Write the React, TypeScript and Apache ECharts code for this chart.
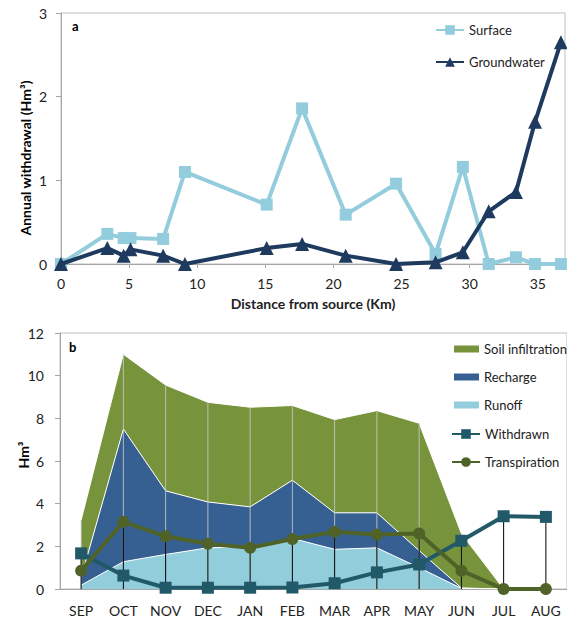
import React, { useEffect, useRef } from 'react';
import * as echarts from 'echarts';

// ---- Panel a data ----
const distanceKm = [0, 3.4, 4.6, 5.1, 7.5, 9.1, 15.1, 17.7, 20.9, 24.6, 27.5, 29.5, 31.4, 33.4, 34.8, 36.7];
const surface = [0, 0.36, 0.31, 0.31, 0.3, 1.1, 0.71, 1.86, 0.59, 0.96, 0.12, 1.16, 0, 0.08, 0, 0];
const groundwater = [0, 0.19, 0.1, 0.175, 0.1, 0, 0.19, 0.24, 0.1, 0, 0.02, 0.14, 0.63, 0.86, 1.7, 2.65];

// ---- Panel b data ----
const months = ['SEP', 'OCT', 'NOV', 'DEC', 'JAN', 'FEB', 'MAR', 'APR', 'MAY', 'JUN', 'JUL', 'AUG'];
const runoff = [0.18, 1.28, 1.62, 1.93, 1.98, 2.37, 1.86, 1.93, 1.0, 0.03, 0, 0];
const recharge = [0.35, 6.22, 2.98, 2.15, 1.87, 2.73, 1.71, 1.64, 0.8, 0.02, 0, 0];
const soilInfiltration = [2.7, 3.5, 4.96, 4.67, 4.67, 3.5, 4.37, 4.79, 5.97, 2.55, 0, 0];
const withdrawn = [1.67, 0.63, 0.06, 0.06, 0.06, 0.07, 0.27, 0.78, 1.15, 2.26, 3.41, 3.38];
const transpiration = [0.86, 3.15, 2.47, 2.12, 1.93, 2.34, 2.68, 2.55, 2.6, 0.86, 0, 0];

const FONT = 'Lato, "Liberation Sans", sans-serif';
const TXT = '#222222';
const AXIS = '#A6A6A6';

const dropLine = (color: string) => (params: any, api: any) => {
  const x = api.value(0);
  const y = api.value(1);
  const p1 = api.coord([x, y]);
  const p0 = api.coord([x, 0]);
  return {
    type: 'line',
    shape: { x1: p1[0], y1: p1[1], x2: p0[0], y2: p0[1] },
    style: { stroke: color, lineWidth: 1 },
  };
};

export default function App() {
  const ref = useRef<HTMLDivElement>(null);
  useEffect(() => {
    document.body.style.margin = '0';
    const chart = echarts.init(ref.current!, null, { renderer: 'svg' });
    const totals = months.map((_, i) => [i, runoff[i] + recharge[i] + soilInfiltration[i]]);
    const lineMax = months.map((_, i) => [i, Math.max(withdrawn[i], transpiration[i])]);
    const areaSeries = (name: string, data: number[], color: string) => ({
      name,
      type: 'line',
      xAxisIndex: 1,
      yAxisIndex: 1,
      stack: 'water',
      data,
      symbol: 'none',
      lineStyle: { color: '#ffffff', width: 1 },
      areaStyle: { color, opacity: 1 },
      itemStyle: { color },
      z: 2,
    });
    const legendText = { fontSize: 13, color: TXT, lineHeight: 16, fontFamily: FONT };
    chart.setOption({
      animation: false,
      textStyle: { fontFamily: FONT },
      grid: [
        { left: 61, top: 13, width: 504, height: 251, show: true, borderColor: '#BFBFBF', borderWidth: 1 },
        { left: 60, top: 333, width: 512, height: 256, show: true, borderColor: '#BFBFBF', borderWidth: 1 },
      ],
      xAxis: [
        {
          gridIndex: 0,
          type: 'value',
          min: 0,
          max: 37,
          interval: 5,
          axisLine: { show: true, onZero: false, lineStyle: { color: AXIS } },
          axisTick: { show: true, length: 4, lineStyle: { color: AXIS } },
          splitLine: { show: false },
          axisLabel: { fontSize: 14, color: TXT, margin: 12, showMaxLabel: false, fontFamily: FONT },
          name: 'Distance from source (Km)',
          nameLocation: 'middle',
          nameGap: 32,
          nameTextStyle: { fontSize: 14, fontWeight: 'bold', color: TXT, fontFamily: FONT },
        },
        {
          gridIndex: 1,
          type: 'category',
          data: months,
          boundaryGap: true,
          axisLine: { show: true, lineStyle: { color: AXIS } },
          axisTick: { show: false },
          axisLabel: { fontSize: 14, color: TXT, margin: 14, fontFamily: FONT },
        },
      ],
      yAxis: [
        {
          gridIndex: 0,
          type: 'value',
          min: 0,
          max: 3,
          interval: 1,
          axisLine: { show: true, lineStyle: { color: AXIS } },
          axisTick: { show: true, length: 5, lineStyle: { color: AXIS } },
          splitLine: { show: false },
          axisLabel: { fontSize: 14, color: TXT, margin: 14, fontFamily: FONT },
        },
        {
          gridIndex: 1,
          type: 'value',
          min: 0,
          max: 12,
          interval: 2,
          axisLine: { show: true, lineStyle: { color: AXIS } },
          axisTick: { show: true, length: 5, lineStyle: { color: AXIS } },
          splitLine: { show: false },
          axisLabel: { fontSize: 14, color: TXT, margin: 16, fontFamily: FONT },
        },
      ],
      legend: [
        {
          data: ['Surface', 'Groundwater'],
          orient: 'vertical',
          left: 435,
          top: 22,
          padding: 0,
          itemWidth: 28,
          itemHeight: 12,
          itemGap: 16,
          selectedMode: false,
          textStyle: legendText,
        },
        {
          data: [
            { name: 'Soil infiltration', icon: 'rect' },
            { name: 'Recharge', icon: 'rect' },
            { name: 'Runoff', icon: 'rect' },
          ],
          orient: 'vertical',
          left: 454,
          top: 341,
          padding: 0,
          itemWidth: 25,
          itemHeight: 7,
          itemGap: 12,
          selectedMode: false,
          textStyle: legendText,
        },
        {
          data: ['Withdrawn', 'Transpiration'],
          orient: 'vertical',
          left: 451,
          top: 426,
          padding: 0,
          itemWidth: 28,
          itemHeight: 12,
          itemGap: 12,
          selectedMode: false,
          textStyle: legendText,
        },
      ],
      graphic: [
        { type: 'text', x: 72, y: 19, style: { text: 'a', fontSize: 13, fontWeight: 'bold', fontFamily: FONT, fill: '#000' } },
        { type: 'text', x: 69, y: 340, style: { text: 'b', fontSize: 13, fontWeight: 'bold', fontFamily: FONT, fill: '#000' } },
        {
          type: 'text',
          x: 25,
          y: 158,
          rotation: Math.PI / 2,
          style: { text: 'Annual withdrawal (Hm³)', fontSize: 14, fontWeight: 'bold', fontFamily: FONT, fill: '#000', align: 'center', verticalAlign: 'middle' },
        },
        {
          type: 'text',
          x: 23,
          y: 455,
          rotation: Math.PI / 2,
          style: { text: 'Hm³', fontSize: 14, fontWeight: 'bold', fontFamily: FONT, fill: '#000', align: 'center', verticalAlign: 'middle' },
        },
      ],
      series: [
        {
          name: 'Surface',
          type: 'line',
          xAxisIndex: 0,
          yAxisIndex: 0,
          data: distanceKm.map((d, i) => [d, surface[i]]),
          symbol: 'rect',
          symbolSize: 12,
          lineStyle: { color: '#93CDDD', width: 4 },
          itemStyle: { color: '#93CDDD' },
          z: 3,
        },
        {
          name: 'Groundwater',
          type: 'line',
          xAxisIndex: 0,
          yAxisIndex: 0,
          data: distanceKm.map((d, i) => [d, groundwater[i]]),
          symbol: 'triangle',
          symbolSize: 14,
          lineStyle: { color: '#1F3A5F', width: 4 },
          itemStyle: { color: '#1F3A5F' },
          z: 4,
        },
        areaSeries('Runoff', runoff, '#92CDDC'),
        areaSeries('Recharge', recharge, '#376092'),
        areaSeries('Soil infiltration', soilInfiltration, '#77933C'),
        {
          type: 'custom',
          xAxisIndex: 1,
          yAxisIndex: 1,
          data: totals,
          renderItem: dropLine('rgba(200,200,200,0.85)'),
          silent: true,
          z: 3,
        },
        {
          type: 'custom',
          xAxisIndex: 1,
          yAxisIndex: 1,
          data: lineMax,
          renderItem: dropLine('#000000'),
          silent: true,
          z: 4,
        },
        {
          name: 'Withdrawn',
          type: 'line',
          xAxisIndex: 1,
          yAxisIndex: 1,
          data: withdrawn,
          symbol: 'rect',
          symbolSize: 12,
          lineStyle: { color: '#215968', width: 4 },
          itemStyle: { color: '#215968' },
          z: 5,
        },
        {
          name: 'Transpiration',
          type: 'line',
          xAxisIndex: 1,
          yAxisIndex: 1,
          data: transpiration,
          symbol: 'circle',
          symbolSize: 12,
          lineStyle: { color: '#4F6228', width: 4 },
          itemStyle: { color: '#4F6228' },
          z: 6,
        },
      ],
    });
    return () => chart.dispose();
  }, []);
  return <div ref={ref} style={{ width: 567, height: 618 }} />;
}
